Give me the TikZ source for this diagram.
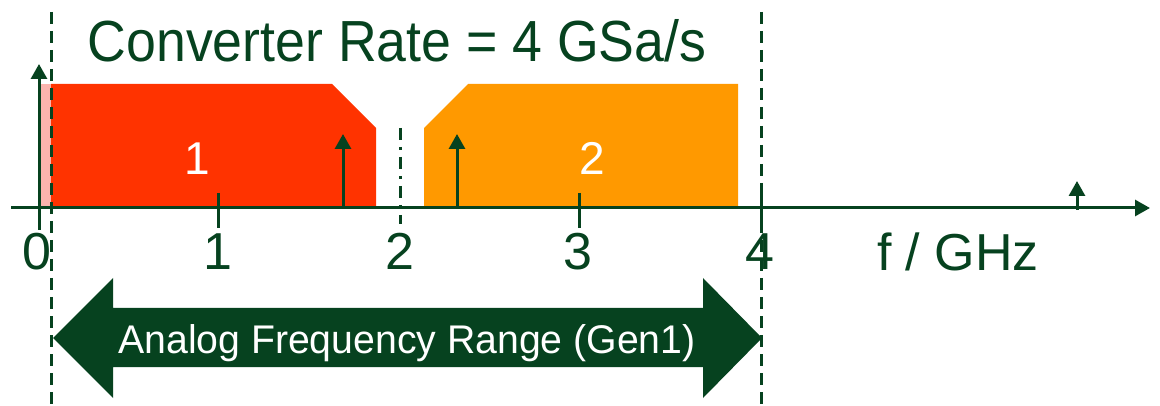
\documentclass[tikz,border=0pt]{standalone}
\usepackage{fontspec}
\setmainfont{Liberation Sans}
\usetikzlibrary{arrows.meta}
\definecolor{dkgreen}{HTML}{06421F}
\definecolor{bandred}{HTML}{FF3300}
\definecolor{bandorange}{HTML}{FF9900}
\definecolor{bandpink}{HTML}{FBB4AE}
\tikzset{
  axisline/.style={draw=dkgreen, line width=3pt},
  tickline/.style={draw=dkgreen, line width=3pt},
  limitline/.style={draw=dkgreen, line width=3pt, dash pattern=on 12pt off 7pt},
  midline/.style={draw=dkgreen, line width=3pt, dash pattern=on 12pt off 7pt on 3pt off 7pt},
  tone/.style={draw=dkgreen, line width=3pt, -{Triangle[width=16pt,length=15pt]}},
  ticklabel/.style={text=dkgreen, font=\fontsize{52}{60}\selectfont, anchor=base, inner sep=0pt},
  bandlabel/.style={text=white, font=\fontsize{46}{54}\selectfont, anchor=base, inner sep=0pt},
}
\begin{document}
\begin{tikzpicture}[x=1pt, y=-1pt]
\useasboundingbox (0,0) rectangle (1160,406);

% spectral bands
\fill[bandpink] (39,84) rectangle (51,208);
\fill[bandred] (51,84) -- (332,84) -- (376,128) -- (376,208) -- (51,208) -- cycle;
\fill[bandorange] (424,208) -- (424,128) -- (468,84) -- (738,84) -- (738,208) -- cycle;

% Nyquist-zone limits
\coordinate (limL-top) at (51,12);
\coordinate (limL-bot) at (51,406);
\coordinate (limR-top) at (761,12);
\coordinate (limR-bot) at (761,406);
\draw[limitline] (limL-top) -- (limL-bot);
\draw[limitline] (limR-top) -- (limR-bot);

% frequency axis
\coordinate (ax-start) at (11,208);
\coordinate (ax-end) at (1150,208);
\draw[axisline, -{Triangle[width=16pt,length=15pt]}] (ax-start) -- (ax-end);
\coordinate (vax-bot) at (39,230);
\coordinate (vax-top) at (39,64);
\draw[axisline, -{Triangle[width=16pt,length=15pt]}] (vax-bot) -- (vax-top);

% ticks
\foreach \n/\x in {1/218, 3/579, 4/761} {
  \coordinate (tick\n-a) at (\x,193);
  \coordinate (tick\n-b) at (\x,228);
  \draw[tickline] (tick\n-a) -- (tick\n-b);
}
\coordinate (mid-top) at (400,128);
\coordinate (mid-bot) at (400,224);
\draw[midline] (mid-top) -- (mid-bot);

% tones
\coordinate (toneA-b) at (343,208);
\coordinate (toneA-t) at (343,134);
\coordinate (toneB-b) at (457,208);
\coordinate (toneB-t) at (457,134);
\coordinate (toneC-b) at (1077,210);
\coordinate (toneC-t) at (1077,181);
\draw[tone] (toneA-b) -- (toneA-t);
\draw[tone] (toneB-b) -- (toneB-t);
\draw[tone] (toneC-b) -- (toneC-t);

% labels
\node[ticklabel] (l0) at (37,270) {0};
\node[ticklabel] (l1) at (218,270) {1};
\node[ticklabel] (l2) at (400,270) {2};
\node[ticklabel] (l3) at (578,270) {3};
\node[ticklabel] (l4) at (760,270) {4};
\node[ticklabel] (unit) at (958,271) {f / GHz};
\node[bandlabel] (b1) at (197,175) {1};
\node[bandlabel] (b2) at (592,175) {2};
\node[text=dkgreen, font=\fontsize{58}{66}\selectfont, anchor=base, inner sep=0pt] (title) at (397,62) {\scalebox{0.925}[1]{Converter Rate = 4 GSa/s}};

% analog frequency range double arrow
\fill[dkgreen] (53,338) -- (113,278) -- (113,308) -- (703,308) -- (703,278) -- (762,338)
  -- (703,398) -- (703,367) -- (113,367) -- (113,398) -- cycle;
\node[text=white, font=\fontsize{40}{48}\selectfont, anchor=base, inner sep=0pt] (range) at (407,353) {\scalebox{0.98}[1]{Analog Frequency Range (Gen1)}};
\end{tikzpicture}
\end{document}
